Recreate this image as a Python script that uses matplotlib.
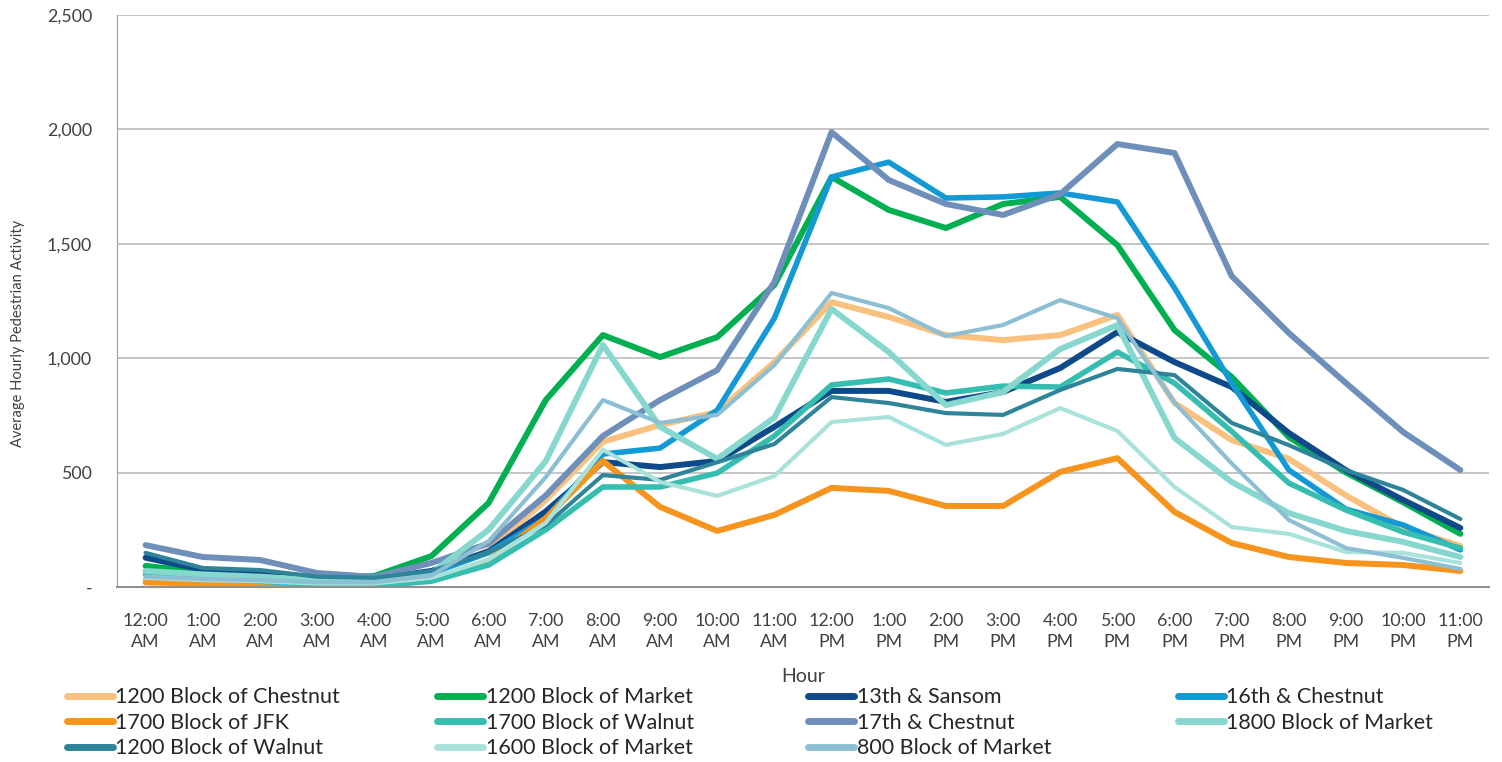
import numpy as np
import matplotlib
matplotlib.use("Agg")
import matplotlib.pyplot as plt
from matplotlib.ticker import FuncFormatter

plt.rcParams['font.family'] = ['Lato', 'DejaVu Sans']

hours = ["12:00\nAM", "1:00\nAM", "2:00\nAM", "3:00\nAM", "4:00\nAM", "5:00\nAM",
         "6:00\nAM", "7:00\nAM", "8:00\nAM", "9:00\nAM", "10:00\nAM", "11:00\nAM",
         "12:00\nPM", "1:00\nPM", "2:00\nPM", "3:00\nPM", "4:00\nPM", "5:00\nPM",
         "6:00\nPM", "7:00\nPM", "8:00\nPM", "9:00\nPM", "10:00\nPM", "11:00\nPM"]

chestnut_1200 = [35, 25, 20, 15, 40, 60, 160, 380, 635, 708, 765, 983,
                 1245, 1180, 1101, 1079, 1101, 1189, 804, 642, 560, 400, 260, 179]
market_1200 = [92, 65, 50, 35, 48, 135, 367, 817, 1101, 1005, 1092, 1320,
               1792, 1648, 1569, 1674, 1705, 1494, 1123, 918, 655, 500, 370, 232]
sansom_13th = [128, 75, 65, 40, 35, 70, 155, 330, 546, 524, 551, 700,
               857, 857, 809, 852, 957, 1114, 983, 874, 673, 510, 380, 258]
chestnut_16th = [70, 45, 40, 25, 25, 60, 150, 300, 581, 607, 773, 1175,
                 1792, 1857, 1700, 1705, 1722, 1683, 1307, 891, 511, 340, 271, 162]
jfk_1700 = [20, 15, 10, 8, 10, 30, 115, 300, 551, 350, 245, 315,
            433, 420, 354, 354, 503, 563, 328, 192, 131, 105, 96, 70]
walnut_1700 = [55, 40, 25, 10, 5, 25, 96, 250, 437, 437, 498, 660,
               883, 909, 848, 878, 874, 1027, 891, 680, 454, 336, 240, 170]
chestnut_17th = [183, 131, 118, 61, 44, 105, 190, 400, 660, 817, 948, 1333,
                 1988, 1779, 1674, 1626, 1717, 1936, 1897, 1359, 1110, 891, 677, 511]
market_1800 = [70, 55, 45, 30, 30, 60, 250, 550, 1058, 700, 560, 740,
               1215, 1027, 795, 852, 1040, 1145, 651, 459, 323, 245, 197, 131]
walnut_1200 = [149, 83, 74, 45, 40, 70, 150, 270, 489, 468, 545, 625,
               830, 804, 760, 752, 861, 953, 926, 717, 620, 510, 424, 297]
market_1600 = [40, 30, 25, 15, 15, 40, 120, 280, 600, 459, 398, 485,
               721, 743, 621, 669, 782, 682, 437, 262, 232, 153, 149, 105]
market_800 = [45, 35, 30, 20, 20, 50, 200, 480, 817, 717, 752, 970,
              1285, 1219, 1097, 1145, 1254, 1175, 805, 540, 293, 170, 127, 79]

series = [
    ("1200 Block of Chestnut", chestnut_1200, "#FAC07E", 4.3),
    ("1200 Block of Market", market_1200, "#00B050", 4.3),
    ("13th & Sansom", sansom_13th, "#0E4A8A", 4.3),
    ("16th & Chestnut", chestnut_16th, "#1399D6", 4.0),
    ("1700 Block of JFK", jfk_1700, "#F7941D", 4.3),
    ("1700 Block of Walnut", walnut_1700, "#35BDB0", 4.0),
    ("17th & Chestnut", chestnut_17th, "#6E8FB9", 4.3),
    ("1800 Block of Market", market_1800, "#86D8CF", 4.3),
    ("1200 Block of Walnut", walnut_1200, "#2F849A", 3.0),
    ("1600 Block of Market", market_1600, "#A9E2DA", 3.0),
    ("800 Block of Market", market_800, "#8DBFD4", 3.0),
]

fig = plt.figure(figsize=(15.02, 7.62), dpi=100)
ax = fig.add_axes([0.0779, 0.2297, 0.9134, 0.7506])

x = np.arange(len(hours))
lines = []
for name, vals, color, lw in series:
    ln, = ax.plot(x, vals, color=color, lw=lw, label=name,
                  solid_joinstyle='round', solid_capstyle='round')
    lines.append(ln)

ax.set_xlim(-0.5, len(hours) - 0.5)
ax.set_ylim(0, 2500)
ax.set_yticks(np.arange(0, 2501, 500))
ax.yaxis.set_major_formatter(FuncFormatter(lambda v, p: "-" if v == 0 else f"{int(v):,}"))
ax.set_xticks(x)
ax.set_xticklabels(hours, linespacing=1.35)
ax.tick_params(axis='both', length=0, labelsize=12.8, colors='#404040')
ax.tick_params(axis='x', pad=19)
ax.tick_params(axis='y', pad=18)
ax.grid(axis='y', color='#C0C0C0', lw=1.3)
ax.set_axisbelow(True)
for s in ['top', 'right']:
    ax.spines[s].set_visible(False)
ax.spines['left'].set_color('#A0A0A0')
ax.spines['bottom'].set_color('#909090')
ax.spines['bottom'].set_linewidth(1.5)

ax.set_xlabel("Hour", fontsize=14, color='#404040', labelpad=13)
fig.text(0.012, 0.562, "Average Hourly Pedestrian Activity", rotation=90,
         fontsize=10.5, color='#404040', ha='center', va='center')

# legend in four equal-width columns, like the original
cols = [[0, 4, 8], [1, 5, 9], [2, 6, 10], [3, 7]]
col_x = [0.0446, 0.291, 0.538, 0.784]
for cx, idx in zip(col_x, cols):
    leg = fig.legend([lines[i] for i in idx], [series[i][0] for i in idx],
                     loc='upper left', bbox_to_anchor=(cx, 0.098),
                     frameon=False, fontsize=15.5, handlelength=2.15,
                     handletextpad=0.1, labelspacing=0.25, borderaxespad=0,
                     borderpad=0)
    for t in leg.get_texts():
        t.set_color('#262626')
    for h in leg.legend_handles:
        h.set_linewidth(5)

fig.savefig("out.png", dpi=100)
